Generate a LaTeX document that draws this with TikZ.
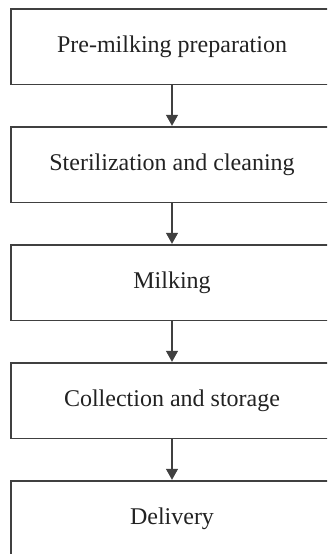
\documentclass[tikz,border=0pt]{standalone}
\usepackage{fontspec}
\setmainfont{Liberation Serif}
\usetikzlibrary{arrows.meta}
\definecolor{linegray}{HTML}{404040}
\definecolor{textgray}{HTML}{222222}
\tikzset{
  stagebox/.style={draw=linegray, line width=1.4pt, rectangle,
    minimum width=322pt, minimum height=75.5pt, inner sep=0pt,
    font=\fontsize{24}{26}\selectfont, text=textgray},
  flowarrow/.style={draw=linegray, line width=1.3pt,
    -{Triangle[width=12pt,length=11pt]}, shorten >=0.5pt}
}
\begin{document}
\begin{tikzpicture}[x=1pt,y=1pt]
  \useasboundingbox (0,0) rectangle (327,554);
  \clip (0,0) rectangle (327,554);
  \node[stagebox] (prep)    at (172,507.25) {Pre-milking preparation};
  \node[stagebox] (clean)   at (172,389.25) {Sterilization and cleaning};
  \node[stagebox] (milk)    at (172,271.25) {Milking};
  \node[stagebox] (collect) at (172,153.25) {Collection and storage};
  \node[stagebox] (deliver) at (172,35.25)  {Delivery};
  \draw[flowarrow] (prep.south)    -- (clean.north);
  \draw[flowarrow] (clean.south)   -- (milk.north);
  \draw[flowarrow] (milk.south)    -- (collect.north);
  \draw[flowarrow] (collect.south) -- (deliver.north);
\end{tikzpicture}
\end{document}
